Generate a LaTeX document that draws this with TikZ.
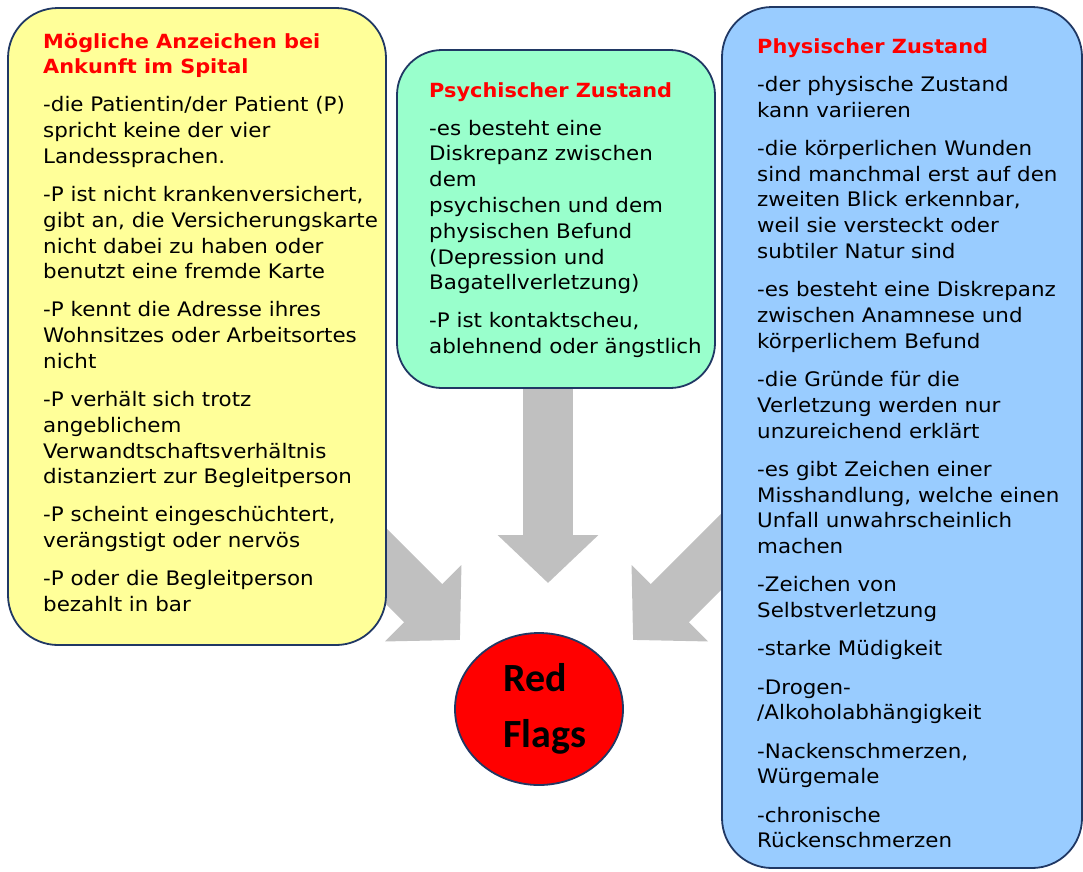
\documentclass[tikz,border=0pt]{standalone}
\usepackage{fontspec}
\setmainfont[FakeStretch=1.07]{DejaVu Sans}
\newfontfamily\flagfont{Carlito}
\usetikzlibrary{arrows.meta,shapes.geometric}
\definecolor{boxborder}{RGB}{32,56,100}
\definecolor{yelfill}{RGB}{255,255,153}
\definecolor{grnfill}{RGB}{153,255,204}
\definecolor{blufill}{RGB}{153,204,255}
\definecolor{arrowgray}{RGB}{192,192,192}
\definecolor{titlered}{RGB}{255,0,0}
\newcommand\ttl[1]{{\fontsize{19.5}{25.8}\selectfont\bfseries\color{titlered}#1}}
\newcommand\bodyfont{\fontsize{20}{25.8}\selectfont}
\tikzset{
  panel/.style={draw=boxborder, line width=1.8pt, rounded corners=#1, inner sep=0pt},
  paneltext/.style={anchor=base west, inner sep=0pt, text=black},
  bigarrow/.style={draw=arrowgray, line width=54pt, -{Triangle[width=105pt,length=52pt]}},
  flag/.style={ellipse, draw=boxborder, line width=1.8pt, fill=red, minimum width=168pt, minimum height=152pt, inner sep=0pt, align=left, font=\flagfont\bfseries\fontsize{40}{56}\selectfont}
}
\begin{document}
\begin{tikzpicture}[x=1pt,y=-1pt]
\useasboundingbox (0,0) rectangle (1083,871);
% connectors (block arrows) behind the panels
\coordinate (lstart) at (320,500);
\coordinate (ltip) at (460,640);
\coordinate (mstart) at (548,370);
\coordinate (mtip) at (548,583);
\coordinate (rstart) at (773,500);
\coordinate (rtip) at (633,640);
\draw[bigarrow] (lstart) -- (ltip);
\draw[bigarrow, line width=50pt, -{Triangle[width=98pt,length=48pt]}] (mstart) -- (mtip);
\draw[bigarrow] (rstart) -- (rtip);
% panels
\node[panel=50pt, fill=yelfill, minimum width=378pt, minimum height=637pt] (yel) at (197,326.5) {};
\node[panel=45pt, fill=grnfill, minimum width=318pt, minimum height=338pt] (grn) at (556,219) {};
\node[panel=50pt, fill=blufill, minimum width=360pt, minimum height=861pt] (blu) at (902,437.5) {};
% texts
\node[paneltext] (yeltxt) at (43,48) {\parbox[t]{345pt}{\leavevmode\raggedright\bodyfont
\ttl{Mögliche Anzeichen bei}\\
\ttl{Ankunft im Spital}\\[12.2pt]
-die Patientin/der Patient (P)\\
spricht keine der vier\\
Landessprachen.\\[12.2pt]
-P ist nicht krankenversichert,\\
gibt an, die Versicherungskarte\\
nicht dabei zu haben oder\\
benutzt eine fremde Karte\\[12.2pt]
-P kennt die Adresse ihres\\
Wohnsitzes oder Arbeitsortes\\
nicht\\[12.2pt]
-P verhält sich trotz\\
angeblichem\\
Verwandtschaftsverhältnis\\
distanziert zur Begleitperson\\[12.2pt]
-P scheint eingeschüchtert,\\
verängstigt oder nervös\\[12.2pt]
-P oder die Begleitperson\\
bezahlt in bar}};
\node[paneltext] (grntxt) at (429,97) {\parbox[t]{285pt}{\leavevmode\raggedright\bodyfont
\ttl{Psychischer Zustand}\\[12.2pt]
-es besteht eine\\
Diskrepanz zwischen\\
dem\\
psychischen und dem\\
physischen Befund\\
(Depression und\\
Bagatellverletzung)\\[12.2pt]
-P ist kontaktscheu,\\
ablehnend oder ängstlich}};
\node[paneltext] (blutxt) at (757,53) {\parbox[t]{320pt}{\leavevmode\raggedright\bodyfont
\ttl{Physischer Zustand}\\[12.4pt]
-der physische Zustand\\
kann variieren\\[12.4pt]
-die körperlichen Wunden\\
sind manchmal erst auf den\\
zweiten Blick erkennbar,\\
weil sie versteckt oder\\
subtiler Natur sind\\[12.4pt]
-es besteht eine Diskrepanz\\
zwischen Anamnese und\\
körperlichem Befund\\[12.4pt]
-die Gründe für die\\
Verletzung werden nur\\
unzureichend erklärt\\[12.4pt]
-es gibt Zeichen einer\\
Misshandlung, welche einen\\
Unfall unwahrscheinlich\\
machen\\[12.4pt]
-Zeichen von\\
Selbstverletzung\\[12.4pt]
-starke Müdigkeit\\[12.4pt]
-Drogen-\\
/Alkoholabhängigkeit\\[12.4pt]
-Nackenschmerzen,\\
Würgemale\\[12.4pt]
-chronische\\
Rückenschmerzen}};
% central circle
\node[flag] (rf) at (539,709) {\hspace*{12pt}Red\\\hspace*{12pt}Flags};
\end{tikzpicture}
\end{document}
